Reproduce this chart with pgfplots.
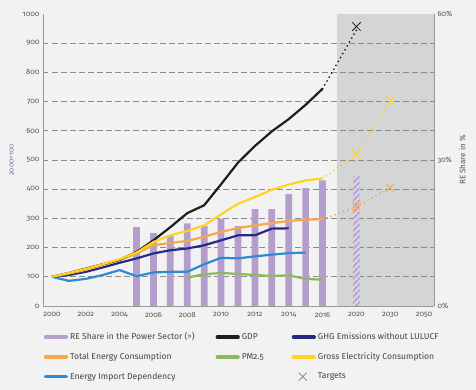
\documentclass[border=0pt]{standalone}
\usepackage{pgfplots}
\pgfplotsset{compat=1.18}
\usepackage{fontspec}
\setmainfont{Fira Sans}[Numbers=OldStyle]
\usetikzlibrary{patterns.meta}
\definecolor{bgcol}{HTML}{F2F2F2}
\definecolor{shadecol}{HTML}{D4D5D7}
\definecolor{gridcol}{HTML}{8C8C8C}
\definecolor{axiscol}{HTML}{9A9A9A}
\definecolor{barcol}{HTML}{B49FCC}
\definecolor{hatchbg}{HTML}{D9D0E4}
\definecolor{gdpcol}{HTML}{1E1E1E}
\definecolor{ghgcol}{HTML}{2A2885}
\definecolor{encol}{HTML}{F8A848}
\definecolor{pmcol}{HTML}{8CB95E}
\definecolor{elcol}{HTML}{FED321}
\definecolor{impcol}{HTML}{2D8BD2}
\definecolor{tickcol}{HTML}{555555}
\definecolor{legcol}{HTML}{444444}
\definecolor{ylabcol}{HTML}{7A6F95}
\pgfplotsset{
  common/.style={at={(43pt,-306pt)}, anchor=south west, scale only axis,
    width=391pt, height=292pt, xmin=-0.53, xmax=22.59},
  proj/.style={line width=2pt, line cap=round, dash pattern=on 0pt off 4.5pt},
  tgt/.style={only marks, mark=x, mark size=6pt, mark options={line width=0.8pt}},
}
\begin{document}
\begin{tikzpicture}[x=1pt,y=1pt]
\fill[bgcol] (0,0) rectangle (476,-390);
% shaded projection region
\begin{axis}[common, ymin=0, ymax=1000, hide axis]
\addplot[fill=shadecol, draw=none] coordinates {(16.84,1000) (22.59,1000)} \closedcycle;
\end{axis}
% bars (RE share, right axis)
\begin{axis}[common, ymin=0, ymax=60,
  axis x line=none, axis y line*=right,
  axis line style={axiscol, line width=0.9pt},
  ytick={0,30,60}, yticklabels={0\%,30\%,60\%},
  major tick length=0pt, minor tick length=0pt,
  minor ytick={6,12,...,54}, yminorgrids=true,
  minor grid style={gridcol, line width=0.8pt, dash pattern=on 5.5pt off 3.5pt},
  yticklabel style={font=\fontsize{7.5}{8}\selectfont, text=tickcol},
  ylabel={RE Share in \%},
  ylabel style={font=\fontsize{8}{9}\selectfont, text=tickcol},
  clip=false]
\addplot[ybar, bar shift=0pt, bar width=6.7pt, fill=barcol, draw=none] coordinates {
(5,16.2) (6,15.0) (7,14.5) (8,17.0) (9,16.4) (10,17.9) (11,16.4) (12,19.9) (13,19.9) (14,23.0) (15,24.2) (16,25.8)};
\addplot[ybar, bar shift=0pt, bar width=6.7pt, fill=hatchbg, draw=none,
  postaction={pattern={Lines[angle=45,distance=4pt,line width=1.8pt]}, pattern color=barcol}]
  coordinates {(18,26.6)};
\end{axis}
% lines (index, left axis)
\begin{axis}[common, ymin=0, ymax=1000,
  axis x line*=bottom, axis y line*=left,
  axis line style={axiscol, line width=0.9pt},
  xtick={0,2,...,22},
  xticklabels={2000,2002,2004,2006,2008,2010,2012,2014,2016,2020,2030,2050},
  ytick={0,100,...,1000},
  major tick length=0pt,
  tick label style={font=\fontsize{7.5}{8}\selectfont, text=tickcol},
  xticklabel style={yshift=-3pt},
  /pgf/number format/assume math mode=true,
  /pgf/number format/1000 sep={},
  ylabel={2000=100},
  ylabel shift=2pt,
  ylabel style={font=\fontsize{7}{8}\selectfont, text=ylabcol},
  legend columns=3,
  legend cell align=left,
  legend style={at={(-0.006,-0.077)}, anchor=north west, draw=none, fill=none,
    font=\fontsize{8.6}{9.5}\selectfont, text=legcol,
    /tikz/column 2/.style={column sep=19pt},
    /tikz/column 4/.style={column sep=26pt},
    row sep=7.5pt},
  legend image code/.code={\draw[#1, line width=3.4pt, line cap=round] (1.7pt,0pt) -- (22.5pt,0pt);},
  clip=false]
\addlegendimage{barcol}\addlegendentry{RE Share in the Power Sector (>)}
\addlegendimage{gdpcol}\addlegendentry{GDP}
\addlegendimage{ghgcol}\addlegendentry{GHG Emissions without LULUCF}
\addlegendimage{encol}\addlegendentry{Total Energy Consumption}
\addlegendimage{pmcol}\addlegendentry{PM2.5}
\addlegendimage{elcol}\addlegendentry{Gross Electricity Consumption}
\addlegendimage{impcol}\addlegendentry{Energy Import Dependency}
\addlegendimage{empty legend}\addlegendentry{}
\addlegendimage{legend image code/.code={\draw[gray, line width=0.8pt] (7pt,-4pt) -- (15pt,4pt) (7pt,4pt) -- (15pt,-4pt);}}\addlegendentry{Targets}
% projections
\addplot[forget plot, encol, proj] coordinates {(16,297) (18,340) (20,405)};
\addplot[forget plot, elcol, proj] coordinates {(16,437) (18,520) (20,700)};
\addplot[forget plot, gdpcol, proj] coordinates {(16,744) (18,945)};
\addplot[forget plot, encol, tgt] coordinates {(18,340) (20,405)};
\addplot[forget plot, elcol, tgt] coordinates {(18,520) (20,703)};
\addplot[forget plot, gdpcol, tgt] coordinates {(18,957)};
% historical series
\addplot[forget plot, pmcol, line width=2.2pt] coordinates {
(8,97)(9,109)(10,113)(11,110)(12,106)(13,103)(14,105)(15,93)(16,90)};
\addplot[forget plot, impcol, line width=2.2pt] coordinates {
(0,100)(1,86)(2,93)(3,106)(4,123)(5,102)(6,115)(7,117)(8,117)(9,143)(10,165)(11,163)(12,170)(13,176)(14,181)(15,183)};
\addplot[forget plot, ghgcol, line width=2.2pt] coordinates {
(0,100)(1,106)(2,117)(3,132)(4,148)(5,163)(6,180)(7,191)(8,197)(9,208)(10,225)(11,242)(12,242)(13,265)(14,266)};
\addplot[forget plot, encol, line width=2.2pt] coordinates {
(0,100)(1,111)(2,124)(3,140)(4,158)(5,180)(6,208)(7,216)(8,223)(9,237)(10,254)(11,267)(12,276)(13,284)(14,291)(15,296)(16,297)};
\addplot[forget plot, gdpcol, line width=2.2pt] coordinates {
(0,100)(1,113)(2,128)(3,143)(4,158)(5,185)(6,225)(7,270)(8,318)(9,345)(10,417)(11,491)(12,548)(13,598)(14,640)(15,689)(16,744)};
\addplot[forget plot, elcol, line width=2.2pt] coordinates {
(0,100)(1,113)(2,127)(3,143)(4,160)(5,183)(6,219)(7,242)(8,257)(9,276)(10,314)(11,350)(12,373)(13,398)(14,416)(15,430)(16,437)};
\end{axis}
\end{tikzpicture}
\end{document}
